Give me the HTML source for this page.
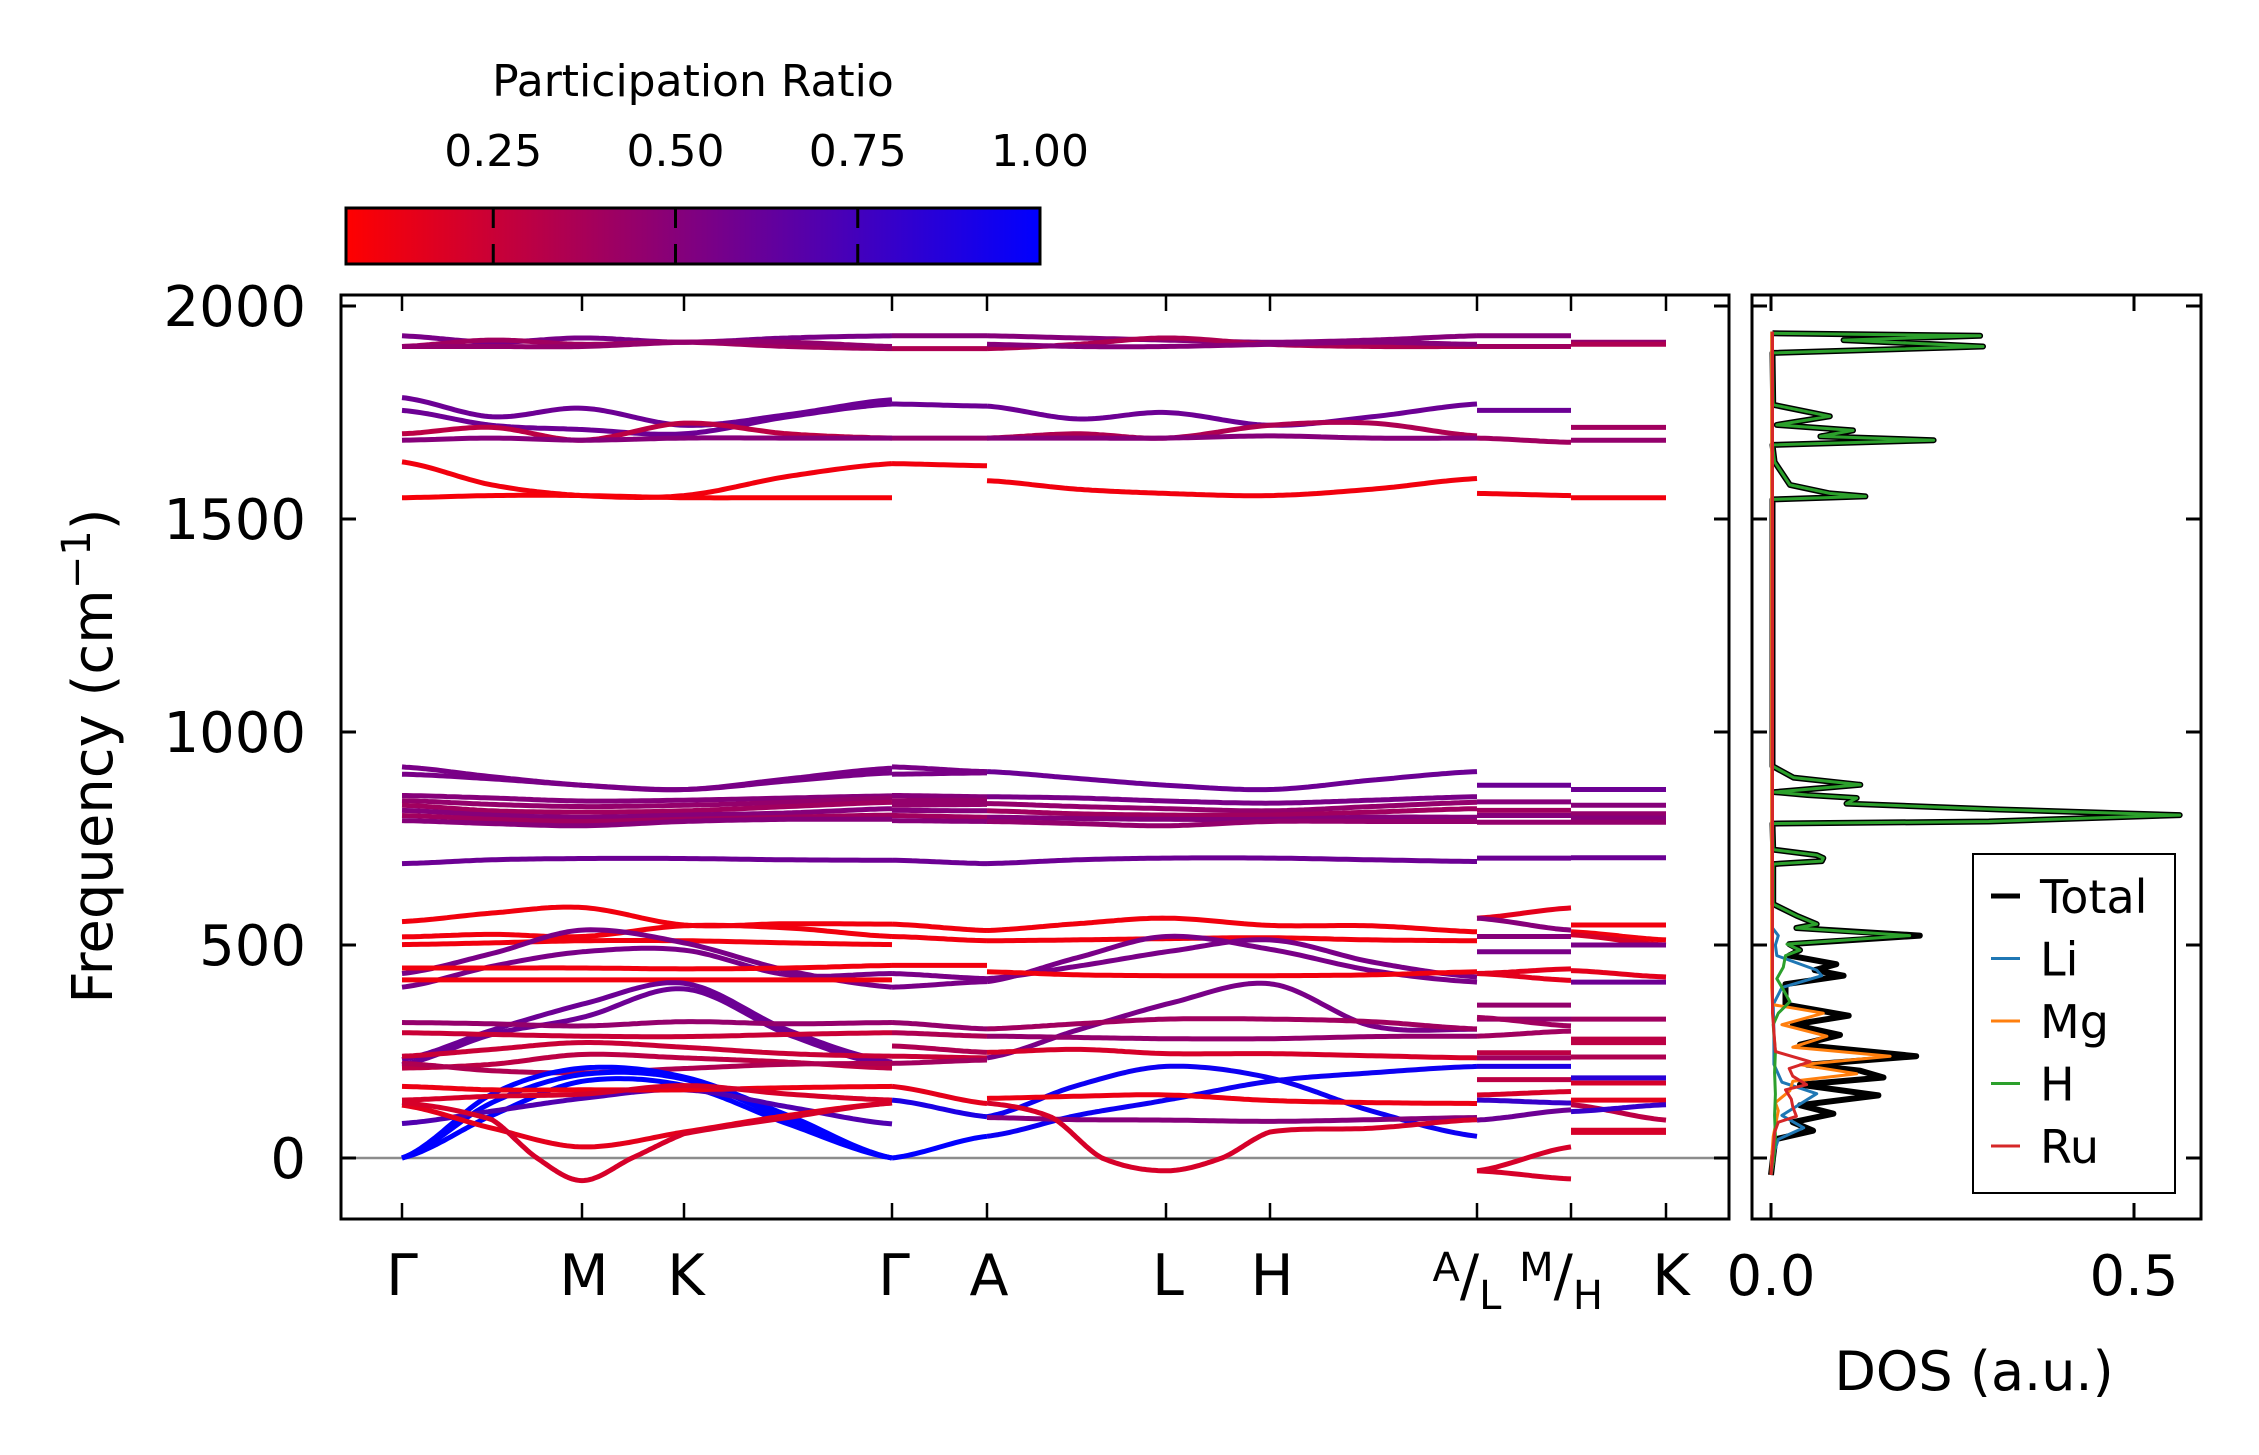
<!DOCTYPE html>
<html>
<head>
<meta charset="utf-8">
<style>
  html,body{margin:0;padding:0;background:#fff;}
  svg{display:block;}
  text{font-family:"DejaVu Sans","Liberation Sans",sans-serif;fill:#000;}
</style>
</head>
<body>
<svg id="chart" width="2259" height="1455" viewBox="0 0 2259 1455" xmlns="http://www.w3.org/2000/svg">
  <defs>
    <linearGradient id="cbgrad" x1="0" x2="1" y1="0" y2="0">
      <stop offset="0" stop-color="#ff0000"/>
      <stop offset="0.5" stop-color="#800080"/>
      <stop offset="1" stop-color="#0000ff"/>
    </linearGradient>
    <clipPath id="mainclip"><rect x="341" y="295" width="1387" height="923"/></clipPath>
    <clipPath id="dosclip"><rect x="1752" y="295" width="448" height="923"/></clipPath>
  </defs>

  <g>
    <text x="693" y="96" font-size="44" text-anchor="middle">Participation Ratio</text>
    <rect x="346" y="208" width="694" height="56" fill="url(#cbgrad)" stroke="#000" stroke-width="3"/>
    <g id="cbticks"></g>
  </g>

  <g>
    <line x1="341" x2="1728" y1="1158" y2="1158" stroke="#8c8c8c" stroke-width="2.5"/>
    <g id="bands" clip-path="url(#mainclip)"></g>
    <rect x="341" y="295" width="1388" height="924" fill="none" stroke="#000" stroke-width="3"/>
    <g id="mainticks"></g>
    <text transform="translate(112,756) rotate(-90)" font-size="56" text-anchor="middle">Frequency (cm<tspan font-size="40" dy="-22">−1</tspan><tspan dy="22">)</tspan></text>
    <g font-size="57" text-anchor="middle">
      <text x="402" y="1295">Γ</text>
      <text x="584" y="1295">M</text>
      <text x="686" y="1295">K</text>
      <text x="894" y="1295">Γ</text>
      <text x="989" y="1295">A</text>
      <text x="1168" y="1295">L</text>
      <text x="1272" y="1295">H</text>
      <text x="1477" y="1295"><tspan font-size="40" dy="-14" dx="-10">A</tspan><tspan dy="14">/</tspan><tspan font-size="40" dy="14">L</tspan></text>
      <text x="1571" y="1295"><tspan font-size="40" dy="-14" dx="-10">M</tspan><tspan dy="14">/</tspan><tspan font-size="40" dy="14">H</tspan></text>
      <text x="1671" y="1295">K</text>
    </g>
  </g>

  <g>
    <g id="dos" clip-path="url(#dosclip)"></g>
    <rect x="1752" y="295" width="449" height="924" fill="none" stroke="#000" stroke-width="3"/>
    <g id="dosticks"></g>
    <text x="1974" y="1390" font-size="54" text-anchor="middle">DOS (a.u.)</text>
    <g>
      <rect x="1973" y="854" width="202" height="339" fill="#fff" stroke="#000" stroke-width="2"/>
      <g id="legend" font-size="46"></g>
    </g>
  </g>
</svg>

<script>
const segQ = [[0,0.9,1.8,2.82,3.86,4.9],[4.9,5.85],[5.85,6.75,7.64,8.68,9.7,10.75],[10.75,11.69],[11.69,12.64]];
const kLabelQ = [0,1.8,2.82,4.9,5.85,7.64,8.68,10.75,11.69,12.64];
const yTicks = [0,500,1000,1500,2000];
const cbTicks = [0.25,0.5,0.75,1.0];
const cbTickLabels = ["0.25","0.50","0.75","1.00"];
const dosTicks = [0,0.5];
const dosTickLabels = ["0.0","0.5"];

const bandSeg = [
 0,0,0,0,0,0,0,0,0,0,0,0,0,0,0,0,0,0,0,0,0,0,0,0,0,0,0,0,0,0,0,0,0,0,0,0,0,0,0,0,
 1,1,1,1,1,1,1,1,1,1,1,1,1,1,1,1,1,1,1,1,1,1,1,1,1,1,1,
 2,2,2,2,2,2,2,2,2,2,2,2,2,2,2,2,2,2,2,2,2,2,2,2,2,2,2,2,
 3,3,3,3,3,3,3,3,3,3,3,3,3,3,3,3,3,3,3,3,3,3,3,3,3,3,3,3,3,3,
 4,4,4,4,4,4,4,4,4,4,4,4,4,4,4,4,4,4,4,4,4,4,4,4,4,4,4,4
];
const bandQ = {
 39:[0,0.9,1.35,1.8,2.3,2.82,3.86,4.9],
 94:[5.85,6.5,7.0,7.64,8.2,8.68,9.7,10.75]
};
const bandF = [
 [1930,1915,1925,1915,1925,1930],[1905,1920,1910,1915,1905,1900],[1905,1905,1905,1915,1915,1905],
 [1785,1740,1760,1720,1745,1780],[1755,1720,1710,1700,1740,1770],[1700,1715,1685,1725,1700,1690],
 [1685,1690,1685,1690,1690,1690],[1634,1580,1555,1555,1600,1630],[1550,1555,1555,1550,1550,1550],
 [918,895,875,865,890,915],[901,890,875,865,885,904],[851,845,838,840,845,850],
 [839,830,825,828,835,845],[828,815,812,815,825,835],[816,805,800,805,810,820],
 [804,795,790,795,800,805],[792,785,780,790,795,795],[691,700,703,703,700,699],
 [555,575,588,547,550,549],[519,525,520,545,540,520],[501,505,510,510,505,501],
 [433,480,535,505,440,401],[401,450,484,488,430,433],[446,446,446,444,446,452],
 [418,418,418,418,418,418],[231,300,361,410,300,225],[219,290,330,397,290,215],
 [318,315,310,320,315,318],[294,290,286,285,290,294],[239,255,271,260,245,239],
 [211,220,243,235,225,211],[222,205,200,210,220,222],[0,150,211,190,100,0],
 [0,130,196,185,90,0],[0,100,180,170,80,0],[81,110,140,160,120,80],
 [168,160,160,160,165,168],[136,145,150,170,150,136],[124,70,26,61,100,129],
 [130,90,0,-53,0,57,95,129],
 [1930,1930],[1900,1900],[1770,1765],[1690,1690],[1630,1625],[918,907],[901,904],[851,848],[839,840],
 [828,830],[816,815],[804,800],[792,790],[699,691],[549,534],[520,510],[452,452],[433,421],[401,414],
 [318,303],[294,286],[263,248],[239,235],[222,230],[168,128],[136,97],[0,51],
 [1930,1925,1920,1915,1920,1930],[1900,1910,1925,1910,1905,1905],[1910,1905,1905,1910,1915,1910],
 [1765,1735,1750,1720,1740,1770],[1690,1700,1690,1720,1725,1695],[1690,1690,1690,1695,1690,1690],
 [1590,1570,1560,1555,1570,1595],[907,891,875,865,887,907],[848,845,838,833,840,848],
 [832,825,820,815,825,835],[815,808,805,805,812,820],[800,797,795,795,800,800],
 [790,785,780,790,790,790],[691,700,704,704,700,696],[534,550,563,546,545,531],
 [510,512,515,517,512,510],[414,470,520,490,440,413],[421,450,484,512,460,425],
 [437,430,428,428,430,437],[235,300,361,409,310,302],[303,315,326,326,320,303],
 [286,283,280,280,285,286],[248,255,245,245,240,235],[51,100,136,180,200,215],
 [97,170,215,188,110,51],[140,145,148,135,130,128],[95,90,89,86,90,95],
 [129,95,0,-30,0,61,70,90],
 [1930,1930],[1905,1905],[1755,1755],[1690,1680],[1560,1555],[875,875],[836,836],[816,816],[804,804],
 [788,788],[704,704],[563,587],[563,535],[520,520],[484,484],[433,444],[433,417],[359,359],[326,326],
 [330,310],[286,298],[247,247],[235,235],[215,215],[184,184],[148,156],[136,129],[89,113],[-30,26],[-30,-49],
 [1915,1915],[1910,1910],[1715,1715],[1685,1685],[1550,1550],[865,865],[828,828],[808,808],[798,798],
 [788,788],[705,705],[547,547],[531,512],[524,500],[500,500],[440,425],[413,413],[326,326],[279,279],
 [271,271],[237,237],[188,188],[176,176],[136,136],[125,89],[109,125],[65,65],[60,60]
];
const bandP = [
 .55,.4,.45,.6,.6,.3,.5,.1,.08,.55,.55,.5,.45,.4,.5,.4,.5,.6,.1,.1,.1,.55,.55,.1,.1,.6,.6,.45,.25,.25,.3,.35,1,1,1,.7,.12,.2,.15,.2,
 .5,.35,.6,.45,.1,.55,.55,.5,.45,.45,.5,.4,.5,.6,.1,.1,.1,.55,.55,.45,.35,.35,.25,.4,.15,.9,1,
 .5,.35,.5,.6,.35,.5,.1,.6,.55,.45,.4,.5,.45,.6,.1,.1,.55,.55,.1,.55,.4,.45,.2,.95,.95,.12,.5,.2,
 .5,.4,.6,.4,.1,.6,.5,.4,.5,.45,.6,.15,.5,.5,.55,.15,.15,.45,.45,.4,.4,.3,.4,.9,.3,.2,.8,.6,.2,.2,
 .45,.35,.4,.45,.1,.6,.5,.45,.5,.45,.6,.1,.1,.2,.55,.15,.6,.4,.3,.3,.35,.85,.2,.15,.3,.8,.2,.2
];

const hF = [-40,0,50,100,150,200,250,290,313,340,367,401,421,448,475,488,502,522,540,549,569,596,690,697,704,711,724,785,790,805,818,832,845,852,859,876,893,920,1546,1553,1560,1580,1634,1674,1685,1694,1708,1721,1741,1768,1890,1905,1920,1930,1936];
const hV = [0,0.004,0.006,0.005,0.006,0.005,0.006,0.004,0.003,0.01,0.026,0.015,0.008,0.017,0.02,0.04,0.022,0.191,0.035,0.063,0.035,0.003,0.003,0.07,0.072,0.063,0.003,0.002,0.3,0.563,0.315,0.104,0.118,0.05,0.005,0.123,0.031,0.002,0.002,0.13,0.081,0.026,0.005,0.002,0.224,0.068,0.113,0.008,0.081,0.003,0.002,0.292,0.1,0.288,0.002];
const tF = [-40,-10,17,44,64,84,104,124,147,172,189,205,219,239,266,289,313,334,360,408,428,441,455,475,488,502,522,540,549,569,596,690,697,704,711,724,785,790,805,818,832,845,852,859,876,893,920,1546,1553,1560,1580,1634,1674,1685,1694,1708,1721,1741,1768,1890,1905,1920,1930,1936];
const tV = [0,0.002,0.004,0.006,0.058,0.03,0.086,0.04,0.148,0.04,0.155,0.123,0.05,0.2,0.04,0.095,0.03,0.107,0.02,0.02,0.1,0.06,0.09,0.025,0.04,0.025,0.205,0.035,0.063,0.035,0.003,0.003,0.07,0.072,0.063,0.003,0.002,0.3,0.563,0.315,0.104,0.118,0.05,0.005,0.123,0.031,0.002,0.002,0.13,0.081,0.026,0.005,0.002,0.224,0.068,0.113,0.008,0.081,0.003,0.002,0.292,0.1,0.288,0.002];
const liF = [-40,-10,17,44,71,100,151,178,220,300,360,400,428,441,475,500,522,540,600,1940];
const liV = [0,0.003,0.005,0.01,0.045,0.015,0.063,0.015,0.004,0.004,0.003,0.015,0.07,0.063,0.008,0.006,0.01,0.002,0.001,0.001];
const mgF = [-40,0,50,111,130,158,180,198,219,239,260,286,313,340,360,400,1940];
const mgV = [0,0.001,0.003,0.01,0.006,0.026,0.03,0.118,0.04,0.164,0.03,0.077,0.015,0.072,0.002,0.001,0.001];
const ruF = [-40,0,60,84,98,120,138,160,172,192,210,226,250,340,1940];
const ruV = [0,0.002,0.005,0.01,0.035,0.03,0.028,0.02,0.049,0.03,0.025,0.054,0.006,0.002,0.002];

const legendLabels = ["Total","Li","Mg","H","Ru"];
const legendColors = ["#000000","#1f77b4","#ff7f0e","#2ca02c","#d62728"];

const NS = "http://www.w3.org/2000/svg";
function xq(q){ return 402 + q*100; }
function yf(f){ return 1158 - f*0.426; }
function xd(d){ return 1771 + d*726; }
function xcb(v){ return 346 + (v-0.048)*(694/0.952); }
function prColor(p){
  const t = Math.max(0,Math.min(1,(p-0.048)/0.952));
  let r,b;
  if(t<0.5){ r=255-(255-128)*(t/0.5); b=128*(t/0.5); }
  else { r=128*(1-(t-0.5)/0.5); b=128+127*((t-0.5)/0.5); }
  return "rgb("+Math.round(r)+",0,"+Math.round(b)+")";
}
function mk(tag, attrs, parent){
  const e = document.createElementNS(NS, tag);
  for(const k in attrs) e.setAttribute(k, attrs[k]);
  parent.appendChild(e);
  return e;
}

const cbG = document.getElementById("cbticks");
cbTicks.forEach((v,i)=>{
  const x = xcb(v);
  if(v<0.99){
    const t1 = mk("line",{x1:x,x2:x,y1:208,y2:228,stroke:"#000","stroke-width":3},cbG);
    
    
    const t2 = mk("line",{x1:x,x2:x,y1:244,y2:264,stroke:"#000","stroke-width":3},cbG);
    
    
  }
  const lb = mk("text",{x:x,y:166,"font-size":44,"text-anchor":"middle"},cbG);
  lb.textContent = cbTickLabels[i];
  
  
});

const mt = document.getElementById("mainticks");
yTicks.forEach(v=>{
  const y = yf(v);
  const a = mk("line",{x1:341,x2:356,y1:y,y2:y,stroke:"#000","stroke-width":3},mt);
  
  
  const b = mk("line",{x1:1714,x2:1729,y1:y,y2:y,stroke:"#000","stroke-width":3},mt);
  
  
  const c = mk("line",{x1:1752,x2:1767,y1:y,y2:y,stroke:"#000","stroke-width":3},mt);
  
  
  const d = mk("line",{x1:2186,x2:2201,y1:y,y2:y,stroke:"#000","stroke-width":3},mt);
  
  
  const t = mk("text",{x:306,y:y+20,"font-size":56,"text-anchor":"end"},mt);
  t.textContent = String(v);
  
  
});
kLabelQ.forEach(q=>{
  const x = xq(q);
  const a = mk("line",{x1:x,x2:x,y1:1219,y2:1203,stroke:"#000","stroke-width":2.5},mt);
  
  
  const b = mk("line",{x1:x,x2:x,y1:295,y2:311,stroke:"#000","stroke-width":2.5},mt);
  
  
});

const dt = document.getElementById("dosticks");
dosTicks.forEach((v,i)=>{
  const x = xd(v);
  const a = mk("line",{x1:x,x2:x,y1:1219,y2:1203,stroke:"#000","stroke-width":3},dt);
  
  
  const b = mk("line",{x1:x,x2:x,y1:295,y2:311,stroke:"#000","stroke-width":3},dt);
  
  
  const t = mk("text",{x:x,y:1295,"font-size":56,"text-anchor":"middle"},dt);
  t.textContent = dosTickLabels[i];
  
  
});

function catmull(pts, n){
  const out=[];
  for(let i=0;i<pts.length-1;i++){
    const p0=pts[Math.max(0,i-1)], p1=pts[i], p2=pts[i+1], p3=pts[Math.min(pts.length-1,i+2)];
    for(let s=0;s<n;s++){
      const t=s/n, t2=t*t, t3=t2*t;
      const f=(a,b,c,d)=>0.5*((2*b)+(-a+c)*t+(2*a-5*b+4*c-d)*t2+(-a+3*b-3*c+d)*t3);
      out.push([p1[0]+(p2[0]-p1[0])*t, f(p0[1],p1[1],p2[1],p3[1])]);
    }
  }
  out.push(pts[pts.length-1]);
  return out;
}
const bg = document.getElementById("bands");
bandF.forEach((fs,i)=>{
  const qs = bandQ[i] || segQ[bandSeg[i]];
  const pts = fs.map((f,j)=>[xq(qs[j]), yf(f)]);
  const sm = catmull(pts, 24);
  const d = "M"+sm.map(p=>p[0].toFixed(1)+","+p[1].toFixed(1)).join(" L");
  const path = mk("path",{d:d,fill:"none",stroke:prColor(bandP[i]),"stroke-width":5,"stroke-linejoin":"round"},bg);
  
  
});

const dg = document.getElementById("dos");
function dosLine(F,V,color,w,name){
  const d = "M"+F.map((f,j)=>xd(V[j]).toFixed(1)+","+yf(f).toFixed(1)).join(" L");
  const p = mk("path",{d:d,fill:"none",stroke:color,"stroke-width":w,"stroke-linejoin":"round"},dg);
  
  
}
dosLine(tF,tV,"#000",6,"dos-total-line");
dosLine(liF,liV,"#1f77b4",3,"dos-li-line");
dosLine(mgF,mgV,"#ff7f0e",3,"dos-mg-line");
dosLine(hF,hV,"#2ca02c",3,"dos-h-line");
dosLine(ruF,ruV,"#d62728",3,"dos-ru-line");

const lg = document.getElementById("legend");
legendLabels.forEach((lab,i)=>{
  const y = 896 + i*62.5;
  const l = mk("line",{x1:1991,x2:2020,y1:y,y2:y,stroke:legendColors[i],"stroke-width":i===0?5:3},lg);
  
  
  const t = mk("text",{x:2040,y:y+17,"font-size":46},lg);
  t.textContent = lab;
  
  
});
</script>
</body>
</html>
